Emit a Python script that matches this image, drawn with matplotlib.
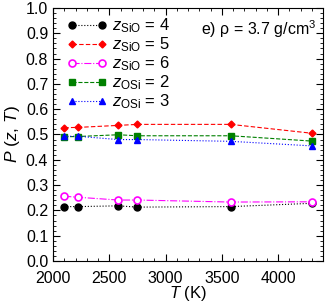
import matplotlib
matplotlib.use("Agg")
import matplotlib.pyplot as plt
from matplotlib.ticker import MultipleLocator

plt.rcParams['font.family'] = ['Liberation Sans', 'DejaVu Sans']
plt.rcParams['mathtext.fontset'] = 'custom'
plt.rcParams['mathtext.rm'] = 'Liberation Sans'
plt.rcParams['mathtext.it'] = 'Liberation Sans:italic'

T = [2100, 2220, 2580, 2750, 3580, 4300]
p_sio4 = [0.215, 0.215, 0.218, 0.213, 0.215, 0.228]
p_sio5 = [0.527, 0.528, 0.536, 0.540, 0.540, 0.505]
p_sio6 = [0.256, 0.252, 0.241, 0.241, 0.233, 0.234]
p_osi2 = [0.491, 0.492, 0.499, 0.495, 0.495, 0.474]
p_osi3 = [0.493, 0.493, 0.480, 0.480, 0.473, 0.455]

fig = plt.figure(figsize=(3.32, 3.05), dpi=100)
ax = fig.add_axes([53 / 332, 1 - 261 / 305, 270 / 332, 253 / 305])

ax.plot(T, p_sio4, color='black', ls=':', lw=0.8, marker='o', ms=5,
        label=r'$z_{\mathrm{SiO}}$ = 4')
ax.plot(T, p_sio5, color='red', ls=(0, (4, 2)), lw=0.8, marker='D', ms=3.5,
        label=r'$z_{\mathrm{SiO}}$ = 5')
ax.plot(T, p_sio6, color='magenta', ls='-.', lw=0.8, marker='o', ms=5,
        mfc='white', mew=1.2, label=r'$z_{\mathrm{SiO}}$ = 6')
ax.plot(T, p_osi2, color='green', ls='--', lw=0.8, marker='s', ms=5,
        label=r'$z_{\mathrm{OSi}}$ = 2')
ax.plot(T, p_osi3, color='blue', ls=':', lw=0.8, marker='^', ms=5,
        label=r'$z_{\mathrm{OSi}}$ = 3')

ax.set_xlim(2000, 4400)
ax.set_ylim(0, 1.0)
ax.xaxis.set_major_locator(MultipleLocator(500))
ax.xaxis.set_minor_locator(MultipleLocator(100))
ax.yaxis.set_major_locator(MultipleLocator(0.1))
ax.yaxis.set_minor_locator(MultipleLocator(0.02))
ax.tick_params(which='both', direction='in', top=True, right=True, labelsize=11.5)
ax.tick_params(which='major', length=5)
ax.tick_params(which='minor', length=2.5)
ax.tick_params(axis='x', pad=7)

ax.set_xlabel(r'$T$ (K)', fontsize=12, labelpad=-1)
ax.set_ylabel(r'$P$ ($z$, $T$)', fontsize=12.5, labelpad=3)

ax.text(0.975, 0.96, r'e) ρ = 3.7 g/cm$^3$', transform=ax.transAxes,
        ha='right', va='top', fontsize=11.5)

ax.legend(loc='upper left', bbox_to_anchor=(0.02, 1.0), frameon=False,
          numpoints=2, fontsize=12, handlelength=2.4, labelspacing=0.02,
          handletextpad=0.3, borderaxespad=0.1)

fig.savefig('out.png', dpi=100)
